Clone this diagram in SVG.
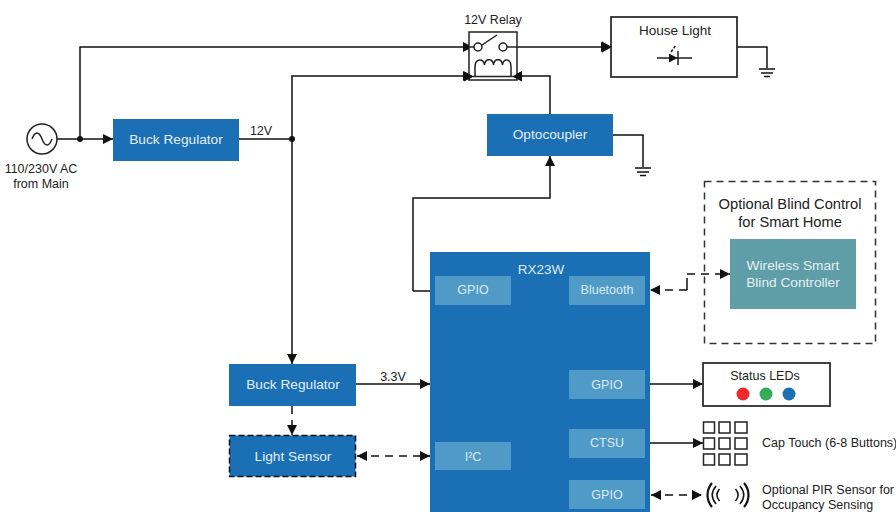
<svg xmlns="http://www.w3.org/2000/svg" width="896" height="512" viewBox="0 0 896 512">
<style>
text{font-family:"Liberation Sans",Arial,sans-serif;font-size:12.5px;fill:#222;text-anchor:middle}
.w{fill:#e4eef6;font-size:13.700px}
.s{fill:#dcebf5;font-size:12.500px}
.b{fill:#1b6fb5}
.i{fill:#4f9ac6}
.o{fill:#fff;stroke:#222;stroke-width:1.700}
.l{fill:none;stroke:#111;stroke-width:1.500}
.a{marker-end:url(#ah)}
.d{stroke-dasharray:8 6}
.t{fill:none;stroke:#222;stroke-width:1.500}
</style>
<defs>
<marker id="ah" markerUnits="userSpaceOnUse" markerWidth="10" markerHeight="11" refX="10" refY="5.500" orient="auto-start-reverse"><path d="M0 0.500L10 5.500L0 10.500Z" fill="#111"/></marker>
</defs>
<g id="connectors">
<path class="l a" d="M57 139H113"/>
<path class="l a" d="M80 139V47H473"/>
<path class="l" d="M239 139H292"/>
<path class="l a" d="M292 139V76H473"/>
<path class="l a" d="M292 139V364"/>
<path class="l a" d="M550 114V76H512"/>
<path class="l a" d="M517 47H611"/>
<path class="l a" d="M413 291V198H550V156"/>
<path class="l" d="M435 291H413"/>
<path class="l" d="M737 47H767V68M759 69H775M761 73H773M764 76.500H770"/>
<path class="l" d="M613 135H643V167M635 168H651M637 172H649M640 175.500H646"/>
<path class="l a" d="M356 384H430"/>
<path class="l a d" d="M292 406V435"/>
<path class="l d" style="marker-start:url(#ah);marker-end:url(#ah)" d="M357 456H430"/>
<path class="l d" style="marker-end:url(#ah)" d="M687 274H730"/>
<path class="l" d="M687 278V290"/>
<path class="l d" style="marker-end:url(#ah)" d="M687 290H650"/>
<path class="l a" d="M650 384H703"/>
<path class="l a" d="M650 443H703"/>
<path class="l d" style="marker-start:url(#ah);marker-end:url(#ah)" d="M651 495H702"/>
<circle cx="80" cy="139" r="3" fill="#111"/>
<circle cx="292" cy="139" r="3" fill="#111"/>
</g>
<g id="ac-source">
<circle cx="42" cy="139" r="15" fill="#fff" stroke="#222" stroke-width="1.500"/>
<path class="t" d="M32 139C35 131 39 131 42 139S49 147 52 139"/>
<text x="41" y="173">110/230V AC</text>
<text x="41" y="188">from Main</text>
</g>
<g id="buck-regulator-1">
<rect class="b" x="113" y="119" width="126" height="42"/>
<text class="w" x="176" y="144">Buck Regulator</text>
<text x="261" y="135">12V</text>
</g>
<g id="relay">
<text x="493" y="24">12V Relay</text>
<rect x="469" y="32" width="48" height="48" fill="#fff" stroke="#222" stroke-width="1.500"/>
<circle cx="478" cy="47" r="4" fill="#fff" stroke="#222" stroke-width="1.500"/>
<circle cx="503" cy="47" r="4" fill="#fff" stroke="#222" stroke-width="1.500"/>
<path class="t" d="M482 45L497 35"/>
<path class="t" d="M475 76V67C475 58 484 58 484.500 65C485 58 493 58 493.500 65C494 58 502 58 502.500 65C503 58 511 58 511 67V76"/>
<path class="t" d="M469 47H474M507 47H517M473 76.500H513"/>
<path d="M464 71.500L474 76.500L464 81.500Z" fill="#111"/>
<path d="M522 71.500L512 76.500L522 81.500Z" fill="#111"/>
</g>
<g id="house-light">
<rect class="o" x="611" y="17" width="126" height="60"/>
<path d="M602 41.500L612 47L602 52.500Z" fill="#111"/>
<text x="675" y="35" style="font-size:13.500px">House Light</text>
<path class="t" d="M657 58H692M678 51V65"/>
<path d="M669 53.500L677.500 58L669 62.500Z" fill="#111"/>
<path class="t" stroke-dasharray="3 1.500" d="M671 52L676 45"/>
</g>
<g id="optocoupler">
<rect class="b" x="487" y="114" width="126" height="42"/>
<text class="w" x="550" y="139">Optocoupler</text>
</g>
<g id="rx23w">
<rect class="b" x="430" y="252" width="220" height="260"/>
<text class="s" x="541" y="274" style="font-size:13.500px">RX23W</text>
<rect class="i" x="435" y="276" width="76" height="29"/><text class="s" x="473" y="294">GPIO</text>
<rect class="i" x="569" y="276" width="76" height="29"/><text class="s" x="607" y="294">Bluetooth</text>
<rect class="i" x="569" y="370" width="76" height="29"/><text class="s" x="607" y="389">GPIO</text>
<rect class="i" x="569" y="429" width="76" height="29"/><text class="s" x="607" y="447">CTSU</text>
<rect class="i" x="569" y="480" width="76" height="29"/><text class="s" x="607" y="499">GPIO</text>
<rect class="i" x="435" y="442" width="76" height="28"/><text class="s" x="473" y="461">I²C</text>
</g>
<g id="buck-regulator-2">
<rect class="b" x="229" y="364" width="127" height="42"/>
<text class="w" x="293" y="389">Buck Regulator</text>
<text x="393" y="381">3.3V</text>
</g>
<g id="light-sensor">
<rect class="b" x="229.500" y="435.500" width="126" height="41" stroke="#111" stroke-width="1.500" stroke-dasharray="6 3"/>
<text class="w" x="293" y="461">Light Sensor</text>
</g>
<g id="blind-control">
<rect x="704.500" y="181.500" width="171" height="162" fill="none" stroke="#333" stroke-width="1.500" stroke-dasharray="7 5"/>
<text x="790" y="209" style="font-size:14.700px">Optional Blind Control</text>
<text x="790" y="227" style="font-size:14.700px">for Smart Home</text>
<rect x="730" y="239" width="126" height="70" fill="#5f9ea6"/>
<text class="w" x="793" y="270" style="font-size:13.700px">Wireless Smart</text>
<text class="w" x="793" y="287" style="font-size:13.700px">Blind Controller</text>
</g>
<g id="status-leds">
<rect class="o" x="703" y="363" width="127" height="43"/>
<text x="765" y="380">Status LEDs</text>
<circle cx="743" cy="394" r="6.500" fill="#ee2a2e"/>
<circle cx="766" cy="394" r="6.500" fill="#35ab5b"/>
<circle cx="789" cy="394" r="6.500" fill="#1b6fb5"/>
</g>
<g id="cap-touch" fill="none" stroke="#222" stroke-width="1.500">
<rect x="703.500" y="422" width="11" height="11"/><rect x="719" y="422" width="11" height="11"/><rect x="735" y="422" width="12" height="11"/>
<rect x="703.500" y="438" width="11" height="11"/><rect x="719" y="438" width="11" height="11"/><rect x="735" y="438" width="12" height="11"/>
<rect x="703.500" y="454" width="11" height="11"/><rect x="719" y="454" width="11" height="11"/><rect x="735" y="454" width="12" height="11"/>
<text x="762" y="447" stroke="none" fill="#222" style="text-anchor:start">Cap Touch (6-8 Buttons)</text>
</g>
<g id="pir-sensor">
<path fill="none" stroke="#111" stroke-width="2.200" d="M712 483C706 490 706 500 712 507M744 483C750 490 750 500 744 507"/>
<path fill="none" stroke="#111" stroke-width="1.500" d="M716 486C711 492 711 498 716 504M719.500 489C716 493 716 497 719.500 501M740 486C745 492 745 498 740 504M735.500 489C739 493 739 497 735.500 501"/>
<text x="762" y="494" style="text-anchor:start">Optional PIR Sensor for</text>
<text x="762" y="509" style="text-anchor:start">Occupancy Sensing</text>
</g>
</svg>
